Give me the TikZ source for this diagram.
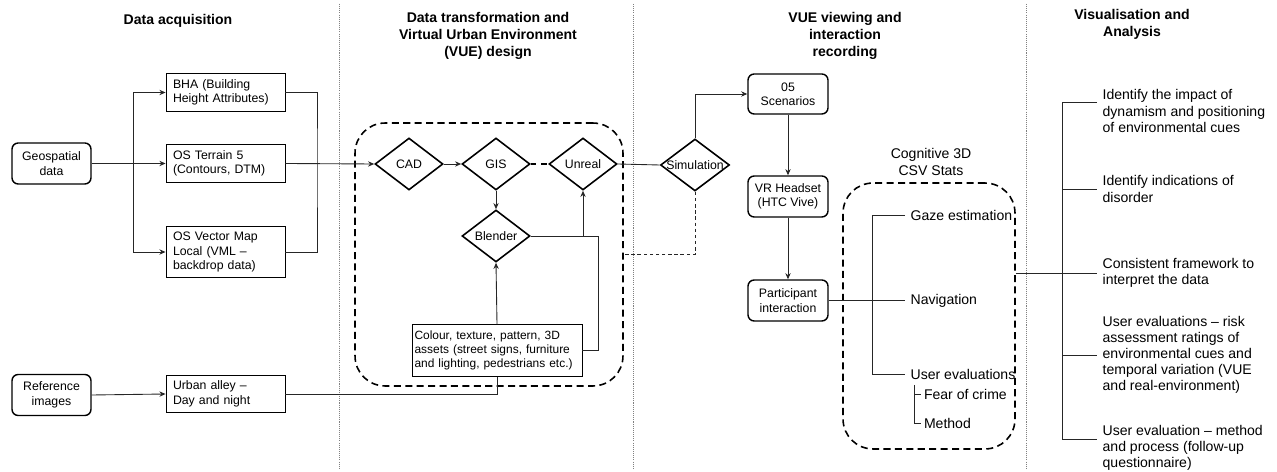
\documentclass[tikz,border=0pt]{standalone}
\usepackage{fontspec}
\setmainfont{Liberation Sans}
\usetikzlibrary{arrows.meta,shapes.geometric}

\begin{document}
\begin{tikzpicture}[x=0.02cm,y=-0.02cm,>={Stealth[length=3.5pt,width=3pt]},
  font=\fontsize{8}{9.2}\selectfont,
  heading/.style={font=\fontsize{8}{9.6}\selectfont\bfseries,align=center},
  srcbox/.style={draw,line width=0.8pt,rounded corners=3.5pt,minimum width=1.58cm,
    minimum height=0.82cm,align=center,inner sep=1pt,font=\fontsize{7}{8.2}\selectfont},
  databox/.style={draw,line width=0.5pt,text width=2.1cm,inner xsep=0.14cm,
    minimum height=0.74cm,align=left,font=\fontsize{7}{8.2}\selectfont},
  tool/.style={draw,diamond,line width=0.9pt,minimum width=1.36cm,minimum height=1.04cm,
    inner sep=0pt,font=\fontsize{7}{8.2}\selectfont},
  groupbox/.style={draw,line width=0.9pt,dash pattern=on 4pt off 2.5pt,rounded corners=0.6cm},
  divider/.style={line width=0.4pt,dash pattern=on 0.6pt off 0.6pt,gray},
  wire/.style={line width=0.5pt,black!85},
  item/.style={anchor=west,align=left,inner sep=3pt}
]

\useasboundingbox (0,0) rectangle (1277,472);

% column dividers
\foreach \x in {339,633,1026}{
  \draw[divider] (\x,4) -- (\x,468);
}

% ============================================================
% 1. DATA ACQUISITION
% ============================================================

\node[heading] (hacq) at (178,21) {Data acquisition};

\node[srcbox] (geo) at (51.5,163.5) {Geospatial\\data};
\node[srcbox] (refimg) at (51.5,395) {Reference\\images};

\node[databox] (bha) at (225.5,92.5) {BHA (Building\\Height Attributes)};
\node[databox] (terrain) at (225.5,163.5) {OS Terrain 5\\(Contours, DTM)};
\node[databox,minimum height=1cm] (vml) at (225.5,252) {OS Vector Map\\Local (VML --\\backdrop data)};
\node[databox,minimum height=0.72cm] (urban) at (225.5,394) {Urban alley --\\Day and night};

\coordinate (fork) at (133,163.5);
\coordinate (merge) at (317,163.5);

\draw[wire,->] (geo.east) -- (terrain.west);
\draw[wire,->] (fork) |- (bha.west);
\draw[wire,->] (fork) |- (vml.west);
\draw[wire] (bha.east) -| (merge) |- (vml.east);
\draw[wire,->] (refimg.east) -- (urban.west);

% ============================================================
% 2. DATA TRANSFORMATION AND VUE DESIGN
% ============================================================

\node[heading] (htrans) at (488,36) {Data transformation and\\Virtual Urban Environment\\(VUE) design};

\node[groupbox,minimum width=5.36cm,minimum height=5.26cm] (vue) at (489,254.5) {};

\node[tool] (cad) at (409,164) {CAD};
\node[tool] (gis) at (496,164) {GIS};
\node[tool] (unreal) at (583,164) {Unreal};
\node[tool] (blender) at (496,236) {Blender};

\node[databox,text width=3.3cm,inner xsep=0.05cm,minimum height=1.02cm,
  font=\fontsize{6.8}{8.1}\selectfont] (colour) at (497,350.5)
  {Colour, texture, pattern, 3D\\assets (street signs, furniture\\and lighting, pedestrians etc.)};

\coordinate (assetjoin) at (598,350.5);

\draw[wire,->] (terrain.east) -- (cad.west);
\draw[wire,->] (cad.east) -- (gis.west);
\draw[line width=0.8pt,dash pattern=on 3pt off 3pt] (gis.east) -- (unreal.west);
\draw[wire,->] (gis.south) -- (blender.north);
\draw[wire,->] (colour.north) -- (blender.south);
\draw[wire] (blender.east) -| (assetjoin) -- (colour.east);
\draw[wire,->] (blender.east -| unreal.south) -- (unreal.south);
\draw[wire] (urban.east) -| (colour.south);

% ============================================================
% 3. VUE VIEWING AND INTERACTION RECORDING
% ============================================================

\node[heading] (hview) at (845,36) {VUE viewing and\\interaction\\recording};

\node[tool,minimum width=1.38cm] (sim) at (695,165) {\makebox[0pt]{Simulation}};
\node[srcbox,minimum width=1.6cm,minimum height=0.8cm] (scen) at (788,94) {05\\Scenarios};
\node[srcbox,minimum width=1.6cm] (vr) at (788,196.5) {VR Headset\\(HTC Vive)};
\node[srcbox,minimum width=1.6cm] (part) at (788,300.5) {Participant\\interaction};

\draw[wire] (unreal.east) -- (sim.west);
\draw[wire,->] (sim.north) |- (scen.west);
\draw[wire,->] (scen.south) -- (vr.north);
\draw[wire,->] (vr.south) -- (part.north);
\draw[wire,dash pattern=on 2pt off 1.5pt] (sim.south) |- (vue.east);

% Cognitive 3D stats
\node[align=center] (csvtitle) at (931,162) {Cognitive 3D\\CSV Stats};
\node[groupbox,minimum width=3.44cm,minimum height=5.32cm] (csv) at (929,316) {};

\node[item] (gaze) at (905,215) {Gaze estimation};
\node[item] (navi) at (905,300.5) {Navigation};
\node[item] (usereval) at (905,374) {User evaluations};
\node[item,inner sep=1.5pt] (fear) at (921,394) {Fear of crime};
\node[item,inner sep=1.5pt] (method) at (921,423) {Method};

\coordinate (csvtrunk) at (872,300.5);
\coordinate (subtop) at (914,385);

\draw[wire] (part.east) -- (navi.west);
\draw[wire] (gaze.west) -| (csvtrunk) |- (usereval.west);
\draw[wire] (subtop) |- (method.west);
\draw[wire] (subtop |- fear.west) -- (fear.west);

% ============================================================
% 4. VISUALISATION AND ANALYSIS
% ============================================================

\node[heading] (hvis) at (1132,24) {Visualisation and\\Analysis};

\node[item] (impact) at (1097,111) {Identify the impact of\\dynamism and positioning\\of environmental cues};
\node[item] (disorder) at (1097,189) {Identify indications of\\disorder};
\node[item] (framework) at (1097,273) {Consistent framework to\\interpret the data};
\node[item] (ratings) at (1097,355) {User evaluations -- risk\\assessment ratings of\\environmental cues and\\temporal variation (VUE\\and real-environment)};
\node[item] (followup) at (1097,448) {User evaluation -- method\\and process (follow-up\\questionnaire)};

\coordinate (atrunk) at (1062,273);

\draw[wire] ([yshift=5pt]impact.west) -| (atrunk) |- ([yshift=5pt]followup.west);
\draw[wire] (atrunk |- disorder.west) -- (disorder.west);
\draw[wire] (csv.east |- framework.west) -- (framework.west);
\draw[wire] (atrunk |- ratings.west) -- (ratings.west);

\end{tikzpicture}
\end{document}
